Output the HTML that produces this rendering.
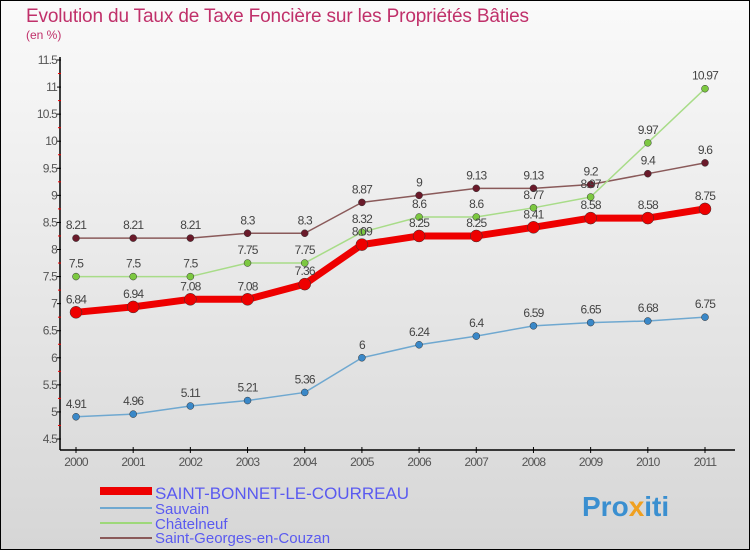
<!DOCTYPE html>
<html><head><meta charset="utf-8"><style>
body{margin:0;width:750px;height:550px;overflow:hidden;font-family:"Liberation Sans",sans-serif}
svg text{font-family:"Liberation Sans",sans-serif}
</style></head><body>
<svg id="c" width="750" height="550" xmlns="http://www.w3.org/2000/svg">
<defs><linearGradient id="bg" x1="0" y1="0" x2="0" y2="1"><stop offset="0" stop-color="#fafafa"/><stop offset="1" stop-color="#d6d6d6"/></linearGradient></defs>
<rect x="0.5" y="0.5" width="749" height="549" fill="url(#bg)" stroke="#000"/>
<text x="26" y="22" font-size="19" fill="#c0306a" textLength="503">Evolution du Taux de Taxe Foncière sur les Propriétés Bâties</text>
<text x="26" y="39" font-size="12" fill="#c0306a">(en %)</text>
<g id="axes"></g><g id="series"></g>
<g>
<rect x="100" y="487" width="52" height="8" fill="#e00"/>
<text x="155" y="499" font-size="17" fill="#5a5af0">SAINT-BONNET-LE-COURREAU</text>
<rect x="100" y="507" width="52" height="2" fill="#6fa8d0"/>
<text x="155" y="514" font-size="15" fill="#5a5af0">Sauvain</text>
<rect x="100" y="522" width="52" height="2" fill="#9ed87a"/>
<text x="155" y="529" font-size="15" fill="#5a5af0">Châtelneuf</text>
<rect x="100" y="537" width="52" height="2" fill="#8a5a5a"/>
<text x="155" y="543" font-size="15" fill="#5a5af0">Saint-Georges-en-Couzan</text>
</g>
<text x="582" y="516" font-size="28" font-weight="bold" fill="#3a8fd0">Pro<tspan fill="#f0a020">x</tspan>iti</text>
</svg>
<script>
const years=[2000,2001,2002,2003,2004,2005,2006,2007,2008,2009,2010,2011];
const yTicks=[4.5,5,5.5,6,6.5,7,7.5,8,8.5,9,9.5,10,10.5,11,11.5];
const sbValues=[6.84,6.94,7.08,7.08,7.36,8.09,8.25,8.25,8.41,8.58,8.58,8.75];
const sauvainValues=[4.91,4.96,5.11,5.21,5.36,6,6.24,6.4,6.59,6.65,6.68,6.75];
const chatValues=[7.5,7.5,7.5,7.75,7.75,8.32,8.6,8.6,8.77,8.97,9.97,10.97];
const sgValues=[8.21,8.21,8.21,8.3,8.3,8.87,9,9.13,9.13,9.2,9.4,9.6];
const NS="http://www.w3.org/2000/svg";
function X(i){return 76+i*(705-76)/11;}
function Y(v){return 439-(v-4.5)*(439-60)/7;}
function mk(tag,attrs,parent){const e=document.createElementNS(NS,tag);for(const k in attrs)e.setAttribute(k,attrs[k]);parent.appendChild(e);return e;}
const ax=document.getElementById('axes');
let l=mk('line',{x1:60,y1:57,x2:60,y2:450,stroke:'#000','stroke-width':1.5},ax);


l=mk('line',{x1:60,y1:450,x2:735,y2:450,stroke:'#000','stroke-width':1.5},ax);


yTicks.forEach((v,i)=>{
  mk('line',{x1:57,y1:Y(v),x2:61,y2:Y(v),stroke:'#000'},ax);
  if(i<yTicks.length-1)mk('line',{x1:58,y1:Y(v+0.25),x2:61,y2:Y(v+0.25),stroke:'#e00'},ax);
  const t=mk('text',{x:57,y:Y(v)+4,'font-size':12,fill:'#555','text-anchor':'end','letter-spacing':'-0.8'},ax);
  t.textContent=String(v);
  
  
});
years.forEach((y,i)=>{
  mk('line',{x1:X(i),y1:447,x2:X(i),y2:453,stroke:'#000'},ax);
  const t=mk('text',{x:X(i),y:466,'font-size':12,fill:'#555','text-anchor':'middle','letter-spacing':'-0.8'},ax);
  t.textContent=String(y);
  
  
});
const sg=document.getElementById('series');
function series(vals,color,dot,w,r,name){
  const g=mk('g',{},sg);
  
  
  mk('polyline',{points:vals.map((v,i)=>X(i)+','+Y(v)).join(' '),fill:'none',stroke:color,'stroke-width':w,'stroke-linejoin':'round'},g);
  vals.forEach((v,i)=>{
    const c=mk('circle',{cx:X(i),cy:Y(v),r:r,fill:dot,stroke:'#333','stroke-width':0.5},g);
    
    
    const t=mk('text',{x:X(i),y:Y(v)-9,'font-size':12,fill:'#444','text-anchor':'middle','letter-spacing':'-0.8'},g);
    t.textContent=String(v);
    
    
  });
}
series(sgValues,'#8a5a5a','#6a1a2a',1.5,3.5,'saint-georges');
series(chatValues,'#a8dc88','#7cc840',1.5,3.5,'chatelneuf');
series(sauvainValues,'#6fa8d0','#3a88c8',1.5,3.5,'sauvain');
series(sbValues,'#e00','#e00',7,6,'saint-bonnet');
</script>
</body></html>
